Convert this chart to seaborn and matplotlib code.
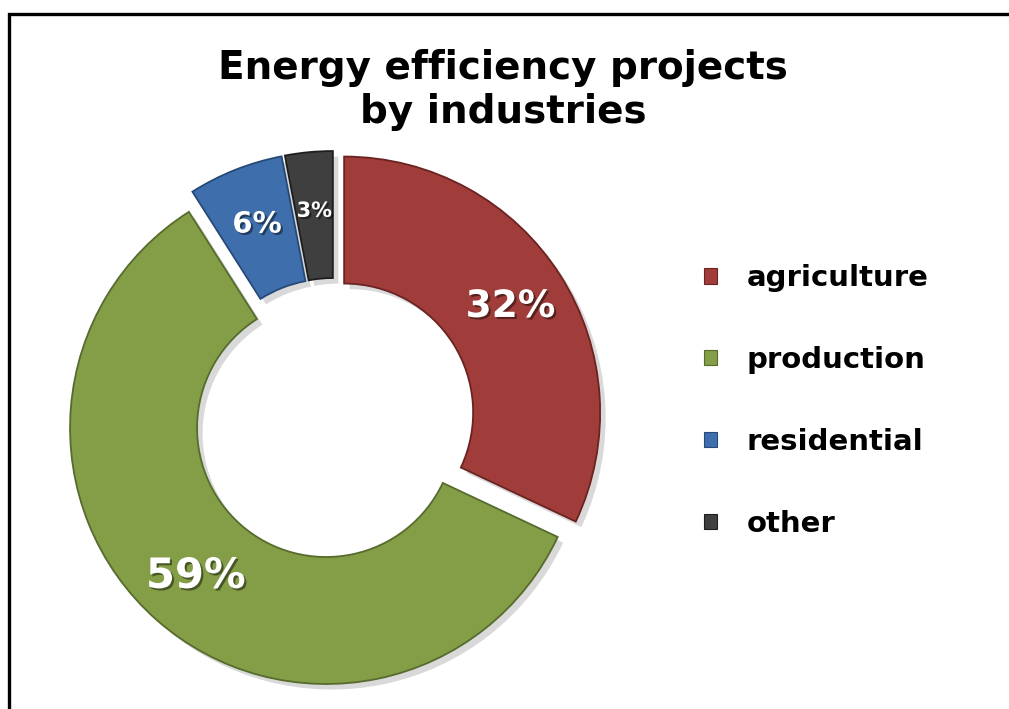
import matplotlib
matplotlib.use("Agg")
import matplotlib.pyplot as plt
import matplotlib.patheffects as pe
from matplotlib.patches import Rectangle
import seaborn as sns

# Share of energy efficiency projects per industry (%)
categories = ["agriculture", "production", "residential", "other"]
shares = [32, 59, 6, 3]
colors = ["#A03D3A", "#839E46", "#3E6EAC", "#3F3F3F"]
edge_colors = ["#6A2321", "#566B2D", "#254A78", "#1E1E1E"]
label_sizes = [27, 30, 21, 15]
title = "Energy efficiency projects\nby industries"

sns.set_theme(style="white")
plt.rcParams["font.family"] = ["DejaVu Sans"]
plt.rcParams["text.color"] = "black"

W, H = 1009, 709
fig = plt.figure(figsize=(W / 100, H / 100), dpi=100)
fig.patch.set_facecolor("white")
# one axes spanning the figure, data units == pixels
ax = fig.add_axes([0, 0, 1, 1])

wedges, texts, autotexts = ax.pie(
    shares,
    colors=colors,
    startangle=90,
    counterclock=False,
    center=(334, H - 419),
    radius=256,
    explode=[12] * len(shares),
    wedgeprops=dict(width=127, linewidth=1.3),
    autopct="%.0f%%",
    pctdistance=0.77,
    textprops=dict(color="white", fontweight="bold"),
)

for w, ec in zip(wedges, edge_colors):
    w.set_edgecolor(ec)
    w.set_path_effects([
        pe.SimplePatchShadow(offset=(4, -4), shadow_rgbFace="black", alpha=0.15),
        pe.Normal(),
    ])

for t, size in zip(autotexts, label_sizes):
    t.set_fontsize(size)
    t.set_path_effects([
        pe.withSimplePatchShadow(offset=(1.5, -1.5), shadow_rgbFace="black", alpha=0.45),
    ])

ax.set_xlim(0, W)
ax.set_ylim(0, H)
ax.set_aspect("auto")
ax.axis("off")

leg = ax.legend(
    wedges, categories,
    loc="center left",
    bbox_to_anchor=(704 / W, 1 - 401 / H),
    bbox_transform=fig.transFigure,
    frameon=False,
    prop=dict(weight="bold", size=21),
    handlelength=0.45,
    handleheight=0.45,
    handletextpad=1.0,
    labelspacing=1.85,
    borderpad=0,
    borderaxespad=0,
    labelcolor="black",
)
for h in leg.legend_handles:
    h.set_path_effects([])
    h.set_linewidth(0.8)

fig.text(503 / W, 1 - 90 / H, title, ha="center", va="center",
         fontsize=28, fontweight="bold", linespacing=1.22, color="black")

# frame around the chart area
fig.add_artist(Rectangle((9 / W, -0.05), 1.2, 1 - 14 / H + 0.05,
                         transform=fig.transFigure, fill=False,
                         linewidth=2.4, edgecolor="black"))

fig.savefig("out.png", dpi=100)
